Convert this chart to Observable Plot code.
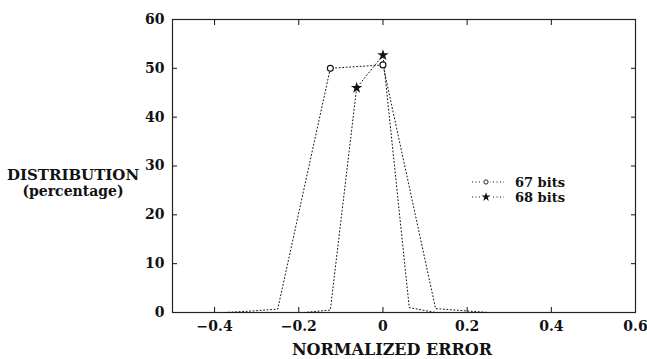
<!DOCTYPE html>
<html><head><meta charset="utf-8">
<script src="https://cdn.jsdelivr.net/npm/d3@7"></script>
<script src="https://cdn.jsdelivr.net/npm/@observablehq/plot@0.6"></script>
<style>
body{margin:0;background:#fff;}
#wrap{position:relative;width:647px;height:359px;font-family:"DejaVu Serif",serif;font-weight:bold;color:#111;}
#wrap svg.main{position:absolute;left:0;top:0;}
.lab{position:absolute;font-size:15px;white-space:nowrap;}
</style></head>
<body><div id="wrap"></div>
<script>
const errors67 = [-0.375, -0.3125, -0.25, -0.125, 0, 0.125, 0.1875, 0.25];
const dist67   = [0, 0.3, 0.7, 50, 50.7, 0.8, 0.4, 0];
const errors68 = [-0.1875, -0.125, -0.0625, 0, 0.0625, 0.125];
const dist68   = [0, 0.5, 46, 52.7, 1, 0];
const xTicks = [-0.4, -0.2, 0, 0.2, 0.4, 0.6];
const yTicks = [0, 10, 20, 30, 40, 50, 60];
const seriesNames = ["67 bits", "68 bits"];

const s67 = errors67.map((x,i)=>({x, y: dist67[i]}));
const s68 = errors68.map((x,i)=>({x, y: dist68[i]}));
const big = d => d.y > 5;
const fmt = d => d === 0 ? "0" : d3.format(".1f")(d).replace("-", "\u2212");

const chart = Plot.plot({
  width: 647, height: 359,
  marginLeft: 172, marginRight: 12, marginTop: 19, marginBottom: 47,
  style: {fontFamily: "DejaVu Serif, serif", fontWeight: "bold", fontSize: "14px", color: "#111", background: "white"},
  x: {domain: [-0.5, 0.6]},
  y: {domain: [0, 60]},
  marks: [
    Plot.axisX({ticks: xTicks, tickSize: 0, tickPadding: 9, tickFormat: fmt, label: null}),
    Plot.axisX({ticks: xTicks, tickSize: -5, tickFormat: () => "", label: null}),
    Plot.axisX({anchor: "top", ticks: xTicks, tickSize: -5, tickFormat: () => "", label: null}),
    Plot.axisY({ticks: yTicks, tickSize: 0, tickPadding: 8, label: null}),
    Plot.axisY({ticks: yTicks, tickSize: -5, tickFormat: () => "", label: null}),
    Plot.axisY({anchor: "right", ticks: yTicks, tickSize: -5, tickFormat: () => "", label: null}),
    Plot.frame({stroke: "#222", strokeWidth: 1.2}),
    Plot.line(s67, {x: "x", y: "y", stroke: "#111", strokeWidth: 1, strokeDasharray: "1,2.5"}),
    Plot.line(s68, {x: "x", y: "y", stroke: "#111", strokeWidth: 1, strokeDasharray: "1,2.5"}),
    Plot.dot(s67, {filter: big, x: "x", y: "y", symbol: "circle", r: 3, stroke: "#111", strokeWidth: 1.1, fill: "white"}),
    Plot.dot(s68, {filter: big, x: "x", y: "y", symbol: "star", r: 3.6, fill: "#111", stroke: "none"})
  ]
});
chart.classList.add("main");
const wrap = document.getElementById("wrap");
wrap.appendChild(chart);

function lab(text, left, top, extra) {
  const d = document.createElement("div");
  d.className = "lab"; d.textContent = text;
  d.style.left = left + "px"; d.style.top = top + "px";
  if (extra) Object.assign(d.style, extra);
  wrap.appendChild(d);
  return d;
}
lab("DISTRIBUTION", 0, 166, {width: "146px", textAlign: "center"});
lab("(percentage)", 0, 183, {width: "146px", textAlign: "center", fontSize: "14px"});
lab("NORMALIZED ERROR", 282, 340, {width: "220px", textAlign: "center", fontSize: "16px"});

// legend
const leg = d3.select(wrap).append("svg")
  .style("position", "absolute").style("left", "468px").style("top", "173px")
  .attr("width", 150).attr("height", 36);
const syms = [d3.symbolCircle, d3.symbolStar];
seriesNames.forEach((name, i) => {
  const g = leg.append("g").attr("transform", `translate(0,${9 + i * 15})`);
  g.append("line").attr("x1", 4).attr("x2", 36).attr("stroke", "#111")
    .attr("stroke-dasharray", "1,2.5");
  if (i === 0) {
    g.append("rect").attr("x", 14).attr("y", -4).attr("width", 8).attr("height", 8).attr("fill", "white");
    g.append("path").attr("transform", "translate(18,0)").attr("d", d3.symbol(syms[i], 14)())
      .attr("fill", "white").attr("stroke", "#111").attr("stroke-width", 0.9);
  } else {
    g.append("rect").attr("x", 13).attr("y", -5).attr("width", 10).attr("height", 10).attr("fill", "white");
    g.append("path").attr("transform", "translate(18,0)").attr("d", d3.symbol(syms[i], 26)())
      .attr("fill", "#111");
  }
  g.append("text").attr("x", 47).attr("y", 5).text(name)
    .attr("font-family", "DejaVu Serif, serif").attr("font-weight", "bold").attr("font-size", 13).attr("fill", "#111");
});
</script></body></html>
